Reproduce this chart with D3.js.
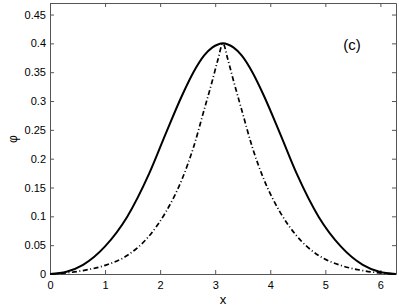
<!DOCTYPE html>
<html>
<head>
<meta charset="utf-8">
<script src="https://cdn.jsdelivr.net/npm/d3@7"></script>
<style>
  body { margin: 0; background: #fff; }
  text { font-family: "Liberation Sans", Arial, sans-serif; fill: #000; }
</style>
</head>
<body>
<div id="chart"></div>
<script>
// x positions (shared by both curves)
let xs = [0, 0.3, 0.6, 1.0, 1.4, 1.8, 2.1, 2.4, 2.6, 2.8, 2.95, 3.05, 3.14,
  3.23, 3.33, 3.48, 3.68, 3.88, 4.18, 4.48, 4.88, 5.28, 5.68, 5.98, 6.28];

// solid curve
let phiSolid = [0, 0.004, 0.016, 0.048, 0.099, 0.174, 0.243, 0.31, 0.349, 0.379, 0.393, 0.398, 0.4,
  0.398, 0.393, 0.379, 0.349, 0.31, 0.243, 0.174, 0.099, 0.048, 0.016, 0.004, 0];

// dash-dot curve
let phiDashDot = [0, 0.002, 0.006, 0.015, 0.032, 0.066, 0.107, 0.165, 0.218, 0.285, 0.336, 0.372, 0.4,
  0.372, 0.336, 0.285, 0.218, 0.165, 0.107, 0.066, 0.032, 0.015, 0.006, 0.002, 0];

let xTicks = [0, 1, 2, 3, 4, 5, 6];
let yTicks = [0, 0.05, 0.1, 0.15, 0.2, 0.25, 0.3, 0.35, 0.4, 0.45];

let svgWidth = 399;
let svgHeight = 308;
let margin = { top: 3, right: 3, bottom: 34, left: 50 };
let width = svgWidth - margin.left - margin.right;
let height = svgHeight - margin.top - margin.bottom;

let svg = d3.select('#chart')
  .append('svg')
  .attr('width', svgWidth)
  .attr('height', svgHeight);

let chartGroup = svg.append('g')
  .attr('transform', `translate(${margin.left}, ${margin.top})`);

let xScale = d3.scaleLinear().domain([0, 2 * Math.PI]).range([0, width]);
let yScale = d3.scaleLinear().domain([0, 0.47]).range([height, 0]);

let tickFmt = d => d3.format('')(+d.toFixed(2));

// axes, ticks pointing inward (box on all sides)
let bottomAxis = d3.axisBottom(xScale).tickValues(xTicks).tickSizeInner(-4).tickSizeOuter(0).tickPadding(7).tickFormat(tickFmt);
let topAxis = d3.axisTop(xScale).tickValues(xTicks).tickSizeInner(-4).tickSizeOuter(0).tickFormat('');
let leftAxis = d3.axisLeft(yScale).tickValues(yTicks).tickSizeInner(-4).tickSizeOuter(0).tickPadding(4).tickFormat(tickFmt);
let rightAxis = d3.axisRight(yScale).tickValues(yTicks).tickSizeInner(-4).tickSizeOuter(0).tickFormat('');

function styleAxis(g) {
  g.selectAll('path, line').attr('stroke', '#555').attr('stroke-width', 1);
  g.selectAll('text').attr('font-size', 11).attr('fill', '#000')
    .style('font-family', '"Liberation Sans", Arial, sans-serif');
}

chartGroup.append('g').attr('transform', `translate(0,${height})`).call(bottomAxis).call(styleAxis);
chartGroup.append('g').call(topAxis).call(styleAxis);
chartGroup.append('g').call(leftAxis).call(styleAxis);
chartGroup.append('g').attr('transform', `translate(${width},0)`).call(rightAxis).call(styleAxis);

let line = (ys) => d3.line()
  .x((d, i) => xScale(xs[i]))
  .y(d => yScale(d))
  .curve(d3.curveMonotoneX)(ys);

chartGroup.append('path')
  .attr('d', line(phiDashDot))
  .attr('fill', 'none')
  .attr('stroke', '#000')
  .attr('stroke-width', 1.7)
  .attr('stroke-dasharray', '5,2.5,1,2.5');

chartGroup.append('path')
  .attr('d', line(phiSolid))
  .attr('fill', 'none')
  .attr('stroke', '#000')
  .attr('stroke-width', 2);

// labels
svg.append('text')
  .attr('x', margin.left + width / 2)
  .attr('y', 304)
  .attr('text-anchor', 'middle')
  .attr('font-size', 13)
  .text('x');

svg.append('text')
  .attr('transform', `translate(17, 139) rotate(-90)`)
  .attr('text-anchor', 'middle')
  .attr('font-size', 12)
  .text('φ');

svg.append('text')
  .attr('x', 352)
  .attr('y', 50)
  .attr('text-anchor', 'middle')
  .attr('font-size', 15)
  .text('(c)');
</script>
</body>
</html>
